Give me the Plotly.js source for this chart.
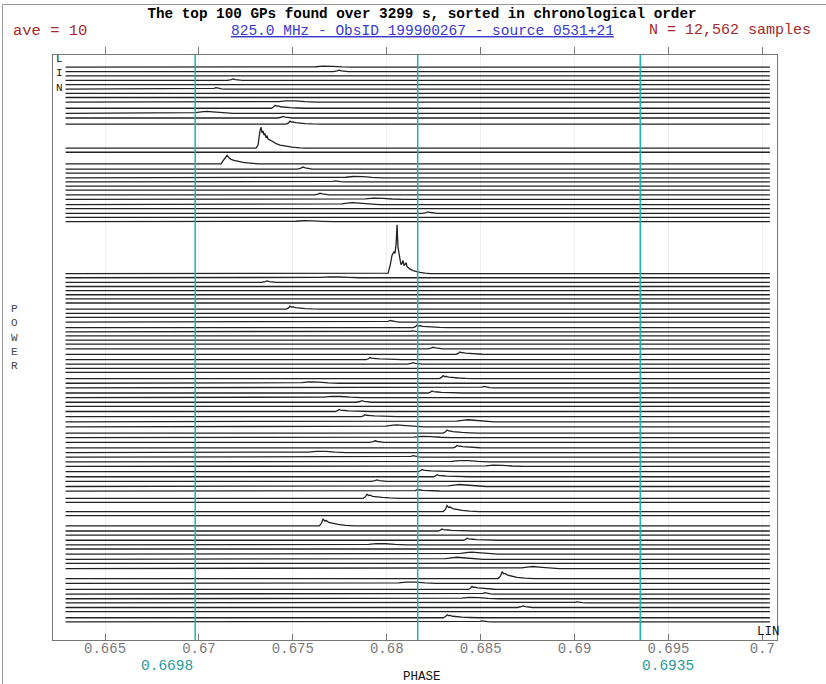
<!DOCTYPE html>
<html><head><meta charset="utf-8">
<script src="https://cdn.plot.ly/plotly-3.0.1.min.js"></script>
<style>html,body{margin:0;padding:0;background:#fff}#chart{width:826px;height:684px}</style>
</head><body><div id="chart"></div>
<script>
// ---------------- data ----------------
const phaseStart = 0.6629, phaseEnd = 0.7004;           // extent of each profile
const markerPhases = [0.6698, 0.68165, 0.6935];          // cyan phase markers
const markerLabels = ['0.6698', null, '0.6935'];
const tickVals = [0.665, 0.67, 0.675, 0.68, 0.685, 0.69, 0.695, 0.7];
const tickText = ['0.665', '0.67', '0.675', '0.68', '0.685', '0.69', '0.695', '0.7'];

// one entry per giant pulse, top (first) to bottom (last)
const gpPhase = [
  0.67682, 0.67746, null, 0.67182, null, 0.67091, null, null, 0.67485, 0.67405,
  0.67043, 0.67448, 0.67485, 0.67331, null, 0.67150, 0.67554, null, 0.67842, 0.67725,
  null, null, 0.67645, 0.67948, 0.67821, null, 0.68220, null, 0.67576, 0.68055,
  0.67714, 0.67363, null, null, null, null, null, 0.67485, null, null,
  0.68018, 0.68161, 0.68135, null, null, null, 0.68247, 0.68389, 0.67911, 0.68140,
  null, null, 0.68300, 0.67608, 0.68518, 0.68241, 0.67725, 0.67868, null, 0.67746,
  0.67884, 0.68433, 0.68055, 0.68321, 0.68204, 0.67938, 0.68374, 0.67645, 0.68140, 0.68406,
  0.68587, 0.68188, 0.68268, 0.67948, 0.68389, 0.68161, 0.67895, null, 0.68321, null,
  0.67661, 0.68294, null, 0.68428, 0.67964, null, 0.68454, 0.68374, null, 0.68779,
  0.68614, 0.68124, 0.68454, 0.68523, 0.68460, 0.69013, 0.68726, null, 0.68321, 0.68507
];
const gpPower = [
  1, 1.5, 0, 1.5, 0, 1.5, 0, 0, 1.5, 3,
  2, 1.5, 3, 20.7, 0, 8.5, 2, 0, 1.5, 1,
  0, 0, 1.5, 1.5, 2, 0, 1.5, 0, 1, 48.6,
  1, 1.5, 0, 0, 0, 0, 0, 3, 0, 0,
  1.5, 2.5, 1, 0, 0, 0, 1.5, 2.5, 2, 1.5,
  0, 0, 3, 1.5, 1.5, 2, 1.5, 1.5, 0, 2,
  2, 2, 2, 3, 1.5, 1.5, 2.5, 1.5, 1.5, 1.5,
  1.5, 2, 2, 1.5, 2, 1.5, 4, 0, 6, 0,
  7, 2, 0, 2, 1.5, 0, 2, 2, 0, 2,
  7, 1.5, 3, 1.5, 1.5, 1, 1.5, 0, 3, 1
];
// profile kind: b = narrow bump, t = fast rise + tail, w = broad, A/C/G = pulses drawn in full, - = none
const gpShape = [
  'w','b','-','b','-','b','-','-','w','t',
  'w','b','t','A','-','C','b','-','w','b',
  '-','-','b','w','w','-','b','-','w','G',
  'w','b','-','-','-','-','-','t','-','-',
  'b','t','b','-','-','-','b','t','t','b',
  '-','-','t','w','b','t','w','b','-','t',
  't','w','w','t','w','b','t','w','b','w',
  'w','t','t','b','w','t','t','-','t','-',
  't','t','-','t','w','-','w','w','-','w',
  't','w','t','b','w','b','b','-','t','b'
];

// measured profile outlines (phase offsets in 1e-4 and relative power)
const bumpOffset  = [-3, -1, 0, 1.2, 3, 5];
const bumpLevel   = [0, 0.5, 1, 0.55, 0.2, 0];
const tailOffset  = [-2, -0.8, 0, 0.8, 1.6, 3, 5, 8, 12, 17];
const tailLevel   = [0, 0.4, 1, 0.7, 0.75, 0.5, 0.35, 0.2, 0.08, 0];
const broadOffset = [-12, -6, -2, 0, 3, 8, 14];
const broadLevel  = [0, 0.35, 0.85, 1, 0.75, 0.3, 0];

// the three brightest pulses
const giantPhase = [0.67996, 0.68007, 0.68018, 0.68028, 0.68039, 0.68044, 0.68050, 0.68055, 0.68060, 0.68065,
  0.68071, 0.68076, 0.68081, 0.68087, 0.68092, 0.68097, 0.68103, 0.68108, 0.68113, 0.68124,
  0.68140, 0.68156, 0.68177, 0.68204, 0.68231];
const giantPower = [0, 0.5, 8, 18, 22, 20, 30, 48.6, 26, 18,
  14, 9, 10, 13, 8, 9, 11, 7, 6, 4.5,
  3, 2, 1.2, 0.5, 0];
const burstPhase = [0.67304, 0.67315, 0.67320, 0.67325, 0.67331, 0.67336, 0.67341, 0.67347, 0.67352, 0.67357,
  0.67363, 0.67368, 0.67379, 0.67395, 0.67411, 0.67432, 0.67458, 0.67496, 0.67538, 0.67565];
const burstPower = [0, 3, 12, 17, 20.7, 15, 17, 13, 14, 11,
  12, 9, 8, 6, 4.5, 3, 2, 1, 0.3, 0];
const flarePhase = [0.67118, 0.67128, 0.67139, 0.67150, 0.67160, 0.67171, 0.67187, 0.67208, 0.67235, 0.67272, 0.67315];
const flarePower = [0, 3, 6, 8.5, 6, 4.5, 3.5, 2.5, 1.5, 0.8, 0];

// ---------------- build the stacked profiles ----------------
const GAP = 3.1, NOISE = 1;
const bases = [];
gpPower.forEach((p, i) => {
  const h = Math.max(p, NOISE);
  bases.push(i === 0 ? 0 : bases[i - 1] - (GAP + h));
});

const X = [], Y = [];
gpShape.forEach((s, i) => {
  const b = bases[i];
  let px = [], py = [];
  if (s === 'G') { px = giantPhase; py = giantPower; }
  else if (s === 'A') { px = burstPhase; py = burstPower; }
  else if (s === 'C') { px = flarePhase; py = flarePower; }
  else if (s !== '-') {
    const off = s === 'b' ? bumpOffset : s === 't' ? tailOffset : broadOffset;
    const lev = s === 'b' ? bumpLevel : s === 't' ? tailLevel : broadLevel;
    px = off.map(o => gpPhase[i] + o * 1e-4);
    py = lev.map(l => l * gpPower[i]);
  }
  X.push(phaseStart); Y.push(b);
  px.forEach((x, k) => { X.push(x); Y.push(b + py[k]); });
  X.push(phaseEnd); Y.push(b);
  X.push(null); Y.push(null);
});

const yTop = bases[0] + 12, yBot = bases[bases.length - 1] - 18;

const mono = '"Liberation Mono", "Courier New", monospace';
const traces = [
  { type: 'scatter', mode: 'lines', x: X, y: Y, connectgaps: false,
    line: { color: '#222', width: 1.3 }, hoverinfo: 'skip' },
  { type: 'scatter', mode: 'lines', x: [phaseStart, phaseEnd], y: [yTop, yTop], xaxis: 'x2', yaxis: 'y',
    line: { color: 'rgba(0,0,0,0)', width: 0 }, hoverinfo: 'skip' }
];

// plot area in pixels: x 53..777, y 55..640
const PX = v => (v - 53) / 724, PY = v => (640 - v) / 585;

const annotations = [
  { text: 'ave = 10', x: PX(11), y: PY(31), xanchor: 'left', yanchor: 'middle',
    font: { family: mono, size: 15.5, color: '#a52a2a' } },
  { text: '<span style="text-decoration:underline">825.0 MHz - ObsID 199900267 - source 0531+21</span>',
    x: PX(422.5), y: PY(31), xanchor: 'center', yanchor: 'middle',
    font: { family: mono, size: 14.5, color: '#3a3ad0' } },
  { text: 'N = 12,562 samples', x: PX(813), y: PY(31), xanchor: 'right', yanchor: 'middle',
    font: { family: mono, size: 15, color: '#a52a2a' } },
  { text: 'PHASE', x: PX(422), y: PY(677), xanchor: 'center', yanchor: 'middle',
    font: { family: mono, size: 12.5, color: '#111' } },
  { text: 'LIN', x: PX(768), y: PY(632), xanchor: 'center', yanchor: 'middle',
    font: { family: mono, size: 12.5, color: '#111' } },
  { text: 'L<br>I<br>N', x: PX(59), y: PY(73), xanchor: 'center', yanchor: 'middle',
    font: { family: mono, size: 11, color: '#111' } },
  { text: 'P<br>O<br>W<br>E<br>R', x: PX(14), y: PY(338), xanchor: 'center', yanchor: 'middle',
    font: { family: mono, size: 11, color: '#444' } }
];
markerPhases.forEach((m, k) => {
  if (!markerLabels[k]) return;
  annotations.push({ text: markerLabels[k], xref: 'x', x: m, yref: 'paper', y: PY(666),
    xanchor: k === 0 ? 'right' : 'left', yanchor: 'middle',
    font: { family: mono, size: 14.5, color: '#2a9a9a' } });
});
annotations.forEach(a => { a.showarrow = false; if (!a.xref) a.xref = 'paper'; if (!a.yref) a.yref = 'paper'; });

const shapes = markerPhases.map(m => ({ type: 'line', xref: 'x', yref: 'paper', x0: m, x1: m, y0: 0, y1: 1,
  line: { color: '#1fb2b2', width: 1.5 }, layer: 'above' }));
shapes.push({ type: 'rect', xref: 'paper', yref: 'paper', x0: PX(2.5), x1: PX(840), y0: PY(700), y1: PY(4.5),
  line: { color: '#999', width: 1 }, layer: 'below' });

const xr = [0.66223, 0.70078];
const layout = {
  width: 826, height: 684,
  margin: { l: 53, r: 49, t: 55, b: 44 },
  paper_bgcolor: '#fff', plot_bgcolor: '#fff', showlegend: false,
  title: { text: '<b>The top 100 GPs found over 3299 s, sorted in chronological order</b>',
    font: { family: mono, size: 14.3, color: '#000' },
    xref: 'container', yref: 'container', x: 422 / 826, xanchor: 'center', y: 1 - 13 / 684, yanchor: 'middle' },
  xaxis: { range: xr, tickvals: tickVals, ticktext: tickText, ticks: 'inside', ticklen: 6, tickcolor: '#777',
    ticklabelstandoff: -5,
    showline: true, linecolor: '#777', linewidth: 1, mirror: true, showgrid: true, gridcolor: '#f0f0f0',
    zeroline: false, tickfont: { family: mono, size: 14, color: '#7a7a7a' } },
  xaxis2: { range: xr, overlaying: 'x', side: 'top', tickvals: tickVals, ticks: 'outside', ticklen: 7,
    tickcolor: '#777', showticklabels: false, showgrid: false, showline: false, zeroline: false },
  yaxis: { range: [yBot, yTop], showticklabels: false, ticks: '', showgrid: false, zeroline: false,
    showline: true, linecolor: '#777', linewidth: 1, mirror: true },
  annotations, shapes
};
Plotly.newPlot('chart', traces, layout, { staticPlot: true, displayModeBar: false });
</script></body></html>
